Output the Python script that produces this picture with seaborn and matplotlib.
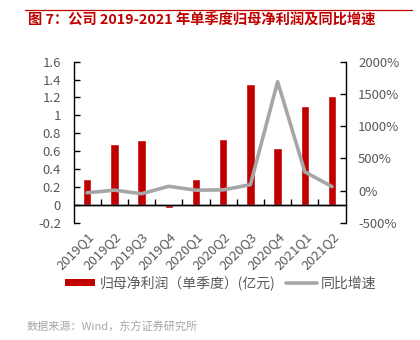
import numpy as np
import pandas as pd
import matplotlib
matplotlib.use("Agg")
import matplotlib.pyplot as plt
from matplotlib.lines import Line2D
from matplotlib.patches import Patch
from matplotlib.ticker import FixedLocator
from matplotlib.transforms import blended_transform_factory
import seaborn as sns

# ---- data ----
quarters = ["2019Q1", "2019Q2", "2019Q3", "2019Q4", "2020Q1",
            "2020Q2", "2020Q3", "2020Q4", "2021Q1", "2021Q2"]
profit = [0.29, 0.68, 0.73, -0.04, 0.29, 0.74, 1.35, 0.63, 1.10, 1.22]
yoy = [-35, 5, -50, 65, 5, 10, 90, 1690, 290, 60]
left_ticks = [-0.2, 0, 0.2, 0.4, 0.6, 0.8, 1.0, 1.2, 1.4, 1.6]
left_labels = ["-0.2", "0", "0.2", "0.4", "0.6", "0.8", "1", "1.2", "1.4", "1.6"]
right_ticks = [-500, 0, 500, 1000, 1500, 2000]
right_labels = ["-500%", "0%", "500%", "1000%", "1500%", "2000%"]
title = "图 7：公司 2019-2021 年单季度归母净利润及同比增速"
legend_bar = "归母净利润（单季度）(亿元)"
legend_line = "同比增速"
source = "数据来源：Wind，东方证券研究所"

RED = "#C00000"
GRAY_LINE = "#A6A6A6"
TXT = "#595959"

sns.set_theme(style="white")
plt.rcParams["font.family"] = ["Noto Sans CJK SC", "DejaVu Sans"]

fig = plt.figure(figsize=(4.2, 3.4), dpi=100)
ax = fig.add_axes([0.175, 0.345, 0.648, 0.4735])

df = pd.DataFrame({"q": quarters, "v": profit})
sns.barplot(data=df, x="q", y="v", ax=ax, color=RED, saturation=1,
            width=0.31)
n = len(quarters)
ax.set_ylim(left_ticks[0], left_ticks[-1])
ax.set_yticks(left_ticks)
ax.set_yticklabels(left_labels)
ax.set_xlabel("")
ax.set_ylabel("")
ax.set_xticks(range(n))
ax.set_xticklabels(quarters, rotation=45, ha="right", rotation_mode="anchor")
ax.xaxis.set_minor_locator(FixedLocator(np.arange(0.5, n - 1, 1)))
ax.tick_params(axis="x", which="major", length=0, pad=5, labelsize=9.5,
               labelcolor=TXT)
ax.tick_params(axis="x", which="minor", length=0)
ax.tick_params(axis="y", direction="in", length=4, width=1, color="black",
               pad=9, labelsize=9.5, labelcolor=TXT, left=True)
for s in ["top", "right", "bottom"]:
    ax.spines[s].set_visible(False)
ax.spines["left"].set_color("black")
ax.spines["left"].set_linewidth(1)

ax2 = ax.twinx()
sns.lineplot(x=np.arange(n), y=yoy, ax=ax2, color=GRAY_LINE,
             linewidth=2.6)
ax2.set_ylim(right_ticks[0], right_ticks[-1])
ax2.set_yticks(right_ticks)
ax2.set_yticklabels(right_labels)
ax2.tick_params(axis="y", direction="in", length=4, width=1, color="black",
                pad=9, labelsize=9.5, labelcolor=TXT, right=True)
for s in ["top", "left"]:
    ax2.spines[s].set_visible(False)
ax2.spines["right"].set_color("black")
ax2.spines["right"].set_linewidth(1)
ax2.set_xlim(-0.5, n - 0.5)
ax2.set_xlabel("")
ax2.set_ylabel("")

# zero line of the left axis (twin's bottom spine) with boundary ticks
zero_frac = (0 - left_ticks[0]) / (left_ticks[-1] - left_ticks[0])
ax2.xaxis.set_visible(True)
ax2.spines["bottom"].set_visible(True)
ax2.spines["bottom"].set_position(("axes", zero_frac))
ax2.spines["bottom"].set_color("black")
ax2.spines["bottom"].set_linewidth(1)
ax2.tick_params(axis="x", which="major", length=0, labelbottom=False,
                labeltop=False)
ax2.tick_params(axis="x", which="minor", direction="in", length=4, width=1,
                color="black", bottom=True)
fig.add_artist(Line2D([0, 1], [0, 0],
                      transform=blended_transform_factory(ax.transAxes,
                                                          ax.transData),
                      color="black", linewidth=1, zorder=10))

# title + rule
fig.add_artist(Line2D([25 / 420, 412 / 420], [1 - 9.7 / 340, 1 - 9.7 / 340],
                      color=RED, linewidth=0.9))
fig.text(28 / 420, 1 - 20.5 / 340, title, color=RED, fontsize=10.3,
         fontweight="bold", ha="left", va="center")

handles = [Patch(facecolor=RED, edgecolor="none"),
           Line2D([], [], color=GRAY_LINE, linewidth=2.6)]
fig.legend(handles, [legend_bar, legend_line], loc="center",
           bbox_to_anchor=(0.525, 1 - 283 / 340), ncol=2, frameon=False,
           fontsize=10, labelcolor=TXT, handlelength=2.2, handleheight=0.5,
           handletextpad=0.3, columnspacing=0.8)

fig.text(27 / 420, 1 - 327 / 340, source, color="#A6A6A6", fontsize=8,
         ha="left", va="center")

fig.savefig("out.png", dpi=100)
